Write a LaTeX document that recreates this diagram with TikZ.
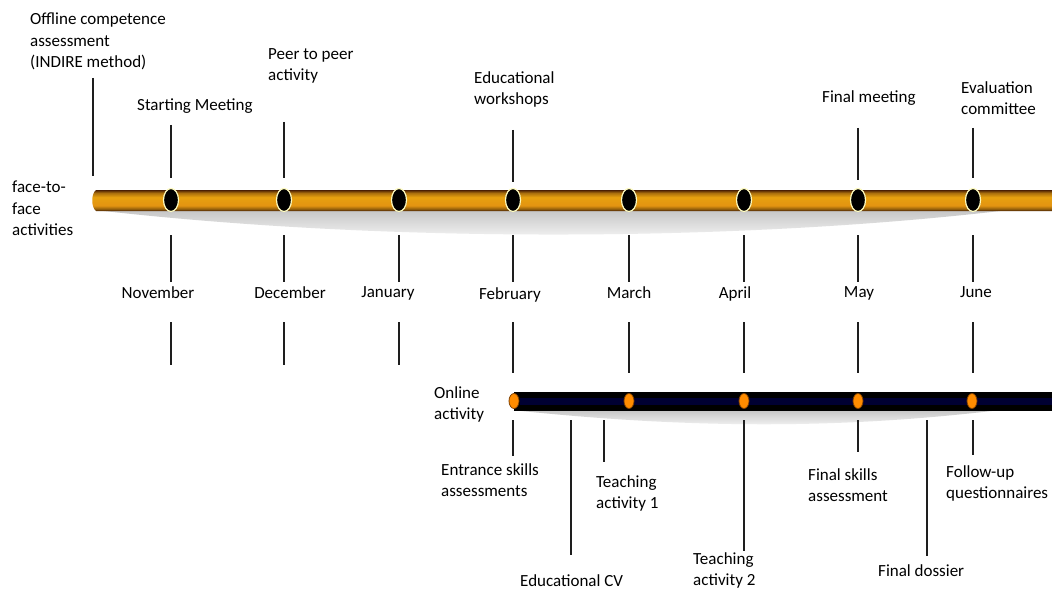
\documentclass[tikz,border=0pt]{standalone}
\usepackage{fontspec}
\setmainfont{Carlito}
\usetikzlibrary{shapes.geometric}
\definecolor{barorange}{HTML}{E39411}
\definecolor{barbrown}{HTML}{4A2004}
\definecolor{tickcol}{HTML}{1E1E1E}
\pgfdeclareverticalshading{orangebar}{100bp}{color(0bp)=(barbrown); color(25bp)=(barbrown); color(30bp)=(barorange!65!black); color(38bp)=(barorange); color(58bp)=(barorange!88!yellow); color(68bp)=(barorange!75!black); color(75bp)=(barbrown); color(100bp)=(barbrown)}
\tikzset{
  lbl/.style={inner sep=0pt, align=left, anchor=north west, font=\fontsize{17}{21.5}\selectfont},
  mon/.style={inner sep=0pt, anchor=north, font=\fontsize{17}{21.5}\selectfont},
  tick/.style={draw=tickcol, line width=2.6pt},
  bigdot/.style={ellipse, minimum width=15pt, minimum height=23pt, inner sep=0pt, fill=black, draw=yellow!25, line width=1.2pt},
  smalldot/.style={ellipse, minimum width=10pt, minimum height=15pt, inner sep=0pt, fill=orange!90!yellow, draw=orange!50!black, line width=0.8pt},
}
\begin{document}
\begin{tikzpicture}[x=1pt,y=-1pt]
\useasboundingbox (0,0) rectangle (1052,591);
\fill[white] (0,0) rectangle (1052,591);
% shadows
\shade[top color=gray!45, bottom color=white] (95,210) .. controls (400,245) and (750,240) .. (1000,211) -- cycle;
\shade[top color=gray!45, bottom color=white] (512,410) .. controls (700,430) and (850,428) .. (1000,410) -- cycle;
% orange bar
\shade[shading=orangebar]
  (96,190) -- (1052,190) -- (1052,211) -- (96,211) .. controls (91,207) and (91,194) .. (96,190);
% online bar
\fill[black] (514,392) rectangle (1052,411);
\fill[black!80!blue] (520,398) rectangle (1052,405);

% dots on orange bar
\foreach \n/\x in {nov/171,dec/284,jan/399,feb/513,mar/629,apr/744,may/858,jun/973}{
  \node[bigdot] (d\n) at (\x,200) {};
}
% dots on online bar
\foreach \n/\x in {feb/514,mar/629,apr/744,may/858,jun/972}{
  \node[smalldot] (o\n) at (\x,401) {};
}

% labels above
\node[lbl] (offline) at (30,13) {Offline competence\\assessment\\(INDIRE method)};
\node[lbl] (start) at (137,99) {Starting Meeting};
\node[lbl] (peer) at (268,48) {Peer to peer\\activity};
\node[lbl] (work) at (474,71) {Educational\\workshops};
\node[lbl] (finmeet) at (822,90) {Final meeting};
\node[lbl] (evalc) at (961,81) {Evaluation\\committee};
\node[lbl] (f2f) at (12,181) {face-to-\\face\\activities};
\node[lbl] (online) at (434,386) {Online\\activity};

% months
\node[mon] (mnov) at (158,286) {November};
\node[mon] (mdec) at (290,286) {December};
\node[mon] (mjan) at (388,286) {January};
\node[mon] (mfeb) at (510,287) {February};
\node[mon] (mmar) at (629,286) {March};
\node[mon] (mapr) at (735,286) {April};
\node[mon] (mmay) at (859,286) {May};
\node[mon] (mjun) at (976,286) {June};

% labels below online bar
\node[lbl] (entr) at (441,463) {Entrance skills\\assessments};
\node[lbl] (ta1) at (596,475) {Teaching\\activity 1};
\node[lbl] (ecv) at (520,574) {Educational CV};
\node[lbl] (ta2) at (693,552) {Teaching\\activity 2};
\node[lbl] (fsa) at (808,468) {Final skills\\assessment};
\node[lbl] (fdos) at (878,564) {Final dossier};
\node[lbl] (fuq) at (946,465) {Follow-up\\questionnaires};

% ticks above orange bar
\coordinate (a0t) at (93,78);  \coordinate (a0b) at (93,176);
\draw[tick] (a0t) -- (a0b);
\foreach \x/\t/\b in {171/125/178,284/122/178,513/130/182,858/128/180,973/128/178}{
  \draw[tick] (\x,\t) -- (\x,\b);
}
% ticks below orange bar (above months)
\foreach \x in {171,284,399,513,629,744,858,973}{
  \draw[tick] (\x,235) -- (\x,282);
}
% ticks below months
\foreach \x in {171,284,399}{
  \draw[tick] (\x,322) -- (\x,365);
}
\foreach \x in {513,629,744,858,973}{
  \draw[tick] (\x,322) -- (\x,373);
}
% ticks below online bar
\foreach \x/\b in {513/456,571/555,604/462,744/551,858/452,927/556,973/455}{
  \draw[tick] (\x,420) -- (\x,\b);
}
\end{tikzpicture}
\end{document}
